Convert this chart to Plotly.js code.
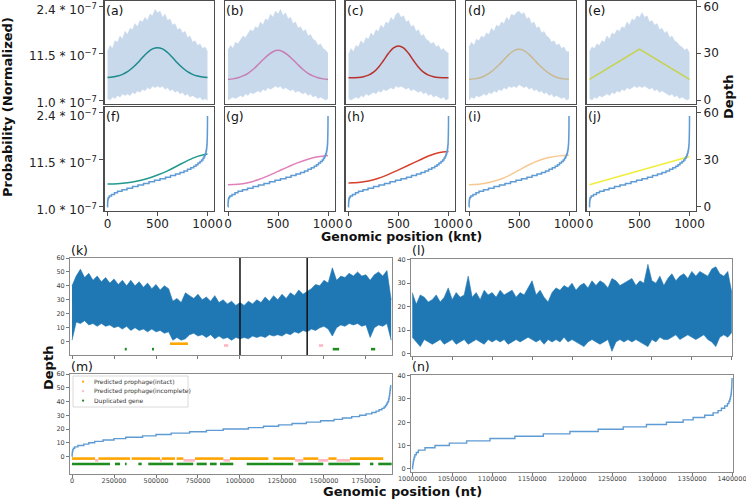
<!DOCTYPE html>
<html><head><meta charset="utf-8">
<script src="https://cdn.plot.ly/plotly-3.0.1.min.js"></script>
<style>html,body{margin:0;padding:0;background:#fff}#chart{width:746px;height:500px}</style>
</head><body><div id="chart"></div>
<script>
// ---------- DATA ----------
// simulated coverage (knt), envelope of the noisy depth signal
const simX = [0,25,50,75,100,125,150,175,200,225,
  250,275,300,325,350,375,400,425,450,475,
  500,525,550,575,600,625,650,675,700,725,
  750,775,800,825,850,875,900,925,950,975,1000];
const aUpper = [31,35,33,38,37,41,39,44,42,46,45,49,47,51,50,53,51,55,54,58,56,57,53,55,51,52,48,49,45,46,43,44,40,41,37,38,35,36,33,34,31];
const aLower = [1,0,2,1,3,2,4,3,4,3,5,4,6,5,7,6,8,7,9,8,9,8,9,7,8,6,7,5,6,4,5,3,4,2,3,2,1,2,0,1,0];
const bUpper = [32,35,33,37,36,39,41,40,43,45,44,47,46,50,48,52,51,55,53,57,55,58,54,56,52,53,49,50,46,47,44,45,41,42,39,38,35,36,33,32,30];
const bLower = [0,1,2,1,2,3,2,4,3,5,4,5,6,5,7,6,8,7,8,9,8,9,7,8,7,6,7,5,6,5,4,5,3,4,2,3,1,2,1,0,1];
const cUpper = [29,33,31,35,34,38,36,40,39,43,41,45,44,48,46,50,49,53,51,55,56,53,54,50,51,47,48,44,45,41,42,39,38,36,37,34,35,32,33,31,30];
const cLower = [1,0,1,2,1,3,2,4,3,4,5,4,6,5,7,6,7,8,7,9,8,9,8,7,8,6,7,6,5,6,4,5,3,4,2,3,2,1,2,0,1];
const dUpper = [34,37,35,39,38,41,40,43,42,46,44,48,47,50,49,53,51,55,54,56,57,55,56,52,53,49,50,46,47,43,44,41,40,37,38,35,36,33,34,31,31];
const dLower = [0,2,1,3,2,3,4,3,5,4,6,5,7,6,8,7,9,8,9,8,10,9,8,9,7,8,6,7,5,6,4,5,3,4,2,3,2,1,2,0,1];
const eUpper = [31,34,33,36,35,38,37,41,39,43,42,45,44,47,46,50,48,52,51,54,53,56,53,54,50,51,48,49,45,46,43,44,40,41,38,37,35,34,32,33,30];
const eLower = [1,0,2,1,3,2,3,4,3,5,4,6,5,7,6,8,7,8,9,8,9,8,9,8,7,8,6,7,5,6,5,4,3,4,2,3,1,2,1,0,1];

// expected depth curves (knt)
const curveX = [0,50,100,150,200,250,300,350,400,450,500,550,600,650,700,750,800,850,900,950,1000];
const aCurve = [14.5,14.8,15.4,16.5,18.2,20.7,23.8,27.3,30.5,32.8,33.6,32.8,30.5,27.3,23.8,20.7,18.2,16.5,15.4,14.8,14.5];
const bCurve = [13.2,13.6,14.3,15.5,17.2,19.6,22.6,25.8,28.8,31.0,31.9,31.0,28.8,25.8,22.6,19.6,17.2,15.5,14.3,13.6,13.2];
const cCurve = [14.3,14.35,14.5,15.0,16.0,17.9,21.1,25.4,30.0,33.4,34.7,33.4,30.0,25.4,21.1,17.9,16.0,15.0,14.5,14.35,14.3];
const dCurve = [13.3,13.6,14.2,15.3,17.1,19.6,22.6,26.0,29.3,31.7,32.6,31.7,29.3,26.0,22.6,19.6,17.1,15.3,14.2,13.6,13.3];
const eCurve = [13.3,15.2,17.2,19.1,21.0,23.0,24.9,26.8,28.7,30.7,32.6,30.7,28.7,26.8,24.9,23.0,21.0,19.1,17.2,15.2,13.3];

// sorted expected depth (knt)
const sortedX = [0,100,200,300,400,500,600,700,800,900,1000];
const fSorted = [14.6,14.8,15.4,16.5,18.2,20.4,23.0,26.3,29.6,32.3,33.8];
const gSorted = [14.1,14.4,15.5,17.3,19.8,22.7,25.6,28.3,30.5,32.0,32.9];
const hSorted = [15.2,15.6,16.6,18.3,20.8,23.7,26.6,29.6,32.5,34.6,35.4];
const iSorted = [14.1,14.5,15.6,17.3,20.0,23.5,26.9,29.6,31.5,32.6,33.0];
const jSorted = [14.1,15.9,17.7,19.5,21.3,23.2,25.0,26.8,28.6,30.4,32.2];

// sorted simulated depth: position (knt) where each depth level starts
const simStepX = [0,0.5,1,1.5,2.5,4,8,18,40,70,100,145,195,250,305,360,415,470,525,580,630,680,725,765,800,833,862,885,905,925,942,955,965,972,978,983,986.5,989.3,991.5,993.2,994.5,996,997.1,997.9,998.6,999.1,999.5,999.75,999.9,1000];
const simStepDepth = [0,1,2,3,4,5,6,7,8,9,10,11,12,13,14,15,16,17,18,19,20,21,22,23,24,25,26,27,28,29,30,31,32,33,34,35,36,37,38,39,40,42,44,46,48,50,52,54,56,58];

// real genome coverage (nt), envelope of the noisy depth signal
const kX = [0,25000,50000,75000,100000,125000,150000,175000,200000,225000,
  250000,275000,300000,325000,350000,375000,400000,425000,450000,475000,
  500000,525000,550000,575000,600000,625000,650000,675000,700000,725000,
  750000,775000,800000,825000,850000,875000,900000,925000,950000,975000,
  1000000,1025000,1050000,1075000,1100000,1125000,1150000,1175000,1200000,1225000,
  1250000,1275000,1300000,1325000,1350000,1375000,1400000,1425000,1450000,1475000,
  1500000,1525000,1550000,1575000,1600000,1625000,1650000,1675000,1700000,1725000,
  1750000,1775000,1800000,1825000,1850000,1875000,1900000];
const kUpper = [40,47,52,46,49,44,47,43,46,42,
  45,41,44,40,44,40,43,39,42,38,
  41,37,40,38,29,31,28,35,33,31,
  34,30,32,29,33,28,30,27,29,26,
  28,26,29,27,30,28,32,29,33,30,
  34,31,35,33,37,34,36,38,41,40,
  44,42,53,44,47,46,49,47,50,47,
  48,44,48,50,47,51,30];
const kLower = [1,14,13,15,12,13,11,13,11,12,
  10,11,9,11,8,10,8,9,7,9,
  7,8,6,7,1,3,1,2,5,6,
  4,5,3,5,2,4,2,3,1,3,
  2,3,2,4,3,4,3,5,4,5,
  4,6,5,7,6,8,7,9,8,10,
  11,9,4,10,12,11,13,12,13,11,
  12,3,10,12,11,13,1];
const regionBounds = [1000000, 1400000];

const lX = [1000000,1005000,1010000,1015000,1020000,1025000,1030000,1035000,1040000,1045000,
  1050000,1055000,1060000,1065000,1070000,1075000,1080000,1085000,1090000,1095000,
  1100000,1105000,1110000,1115000,1120000,1125000,1130000,1135000,1140000,1145000,
  1150000,1155000,1160000,1165000,1170000,1175000,1180000,1185000,1190000,1195000,
  1200000,1205000,1210000,1215000,1220000,1225000,1230000,1235000,1240000,1245000,
  1250000,1255000,1260000,1265000,1270000,1275000,1280000,1285000,1290000,1295000,
  1300000,1305000,1310000,1315000,1320000,1325000,1330000,1335000,1340000,1345000,
  1350000,1355000,1360000,1365000,1370000,1375000,1380000,1385000,1390000,1395000,1400000];
const lUpper = [26,21,25,24,22,23,25,22,24,28,
  23,26,24,25,33,24,26,23,27,25,
  26,24,27,25,26,27,24,26,25,28,
  31,25,27,24,22,26,28,27,29,28,
  30,27,29,30,28,31,29,31,30,28,
  32,31,29,30,31,32,29,31,30,38,
  31,30,33,29,32,34,31,33,34,32,
  35,33,35,34,33,36,37,34,33,35,26];
const lLower = [7,5,3,6,5,4,5,6,4,5,
  6,4,5,6,4,5,6,5,4,6,
  5,6,5,6,4,5,6,5,6,7,
  6,5,6,4,6,5,6,5,7,5,
  6,5,4,3,5,6,5,4,5,6,
  1,5,6,5,6,5,6,5,4,3,
  6,5,7,6,6,7,8,6,7,8,
  7,6,7,8,6,5,3,7,8,7,9];

// sorted real depth: position (nt) where each depth level starts
const mStepX = [0,500,1000,1800,3000,5000,8000,16000,35000,70000,100000,135000,185000,250000,320000,420000,500000,590000,700000,800000,900000,1050000,1140000,1230000,1310000,1395000,1480000,1560000,1610000,1665000,1712000,1750000,1785000,1810000,1828000,1845000,1858000,1866000,1872000,1876000,1880000,1885000,1888500,1891000,1893000,1895000,1897000];
const mStepDepth = [0,1,2,3,4,5,6,7,8,9,10,11,12,13,14,15,16,17,18,19,20,21,22,23,24,25,26,27,28,29,30,31,32,33,34,35,36,37,38,39,40,42,44,46,48,50,52];
const nStepX = [1000000,1000300,1000600,1001000,1001500,1002200,1003200,1005000,1007500,1015800,1028300,1046300,1067900,1097100,1128300,1163800,1197100,1232500,1263800,1292900,1317900,1338800,1351300,1365800,1376300,1382500,1386700,1390800,1394200,1396000,1397200,1398000,1398600,1399000,1399300,1399500,1399700,1399800,1399900,1400000];
const nStepDepth = [0,1,2,3,4,5,6,7,8,9,10,11,12,13,14,15,16,17,18,19,20,21,22,23,24,25,26,27,28,29,30,31,32,33,34,35,36,37,38,39];

// annotated regions (nt): [start, end]
const kIntact = [[583000,690000]];
const kIncomplete = [[905000,930000],[1470000,1495000]];
const kDuplicated = [[314000,326000],[476000,488000],[1552000,1590000],[1780000,1805000]];
const mIntact = [[0,137000],[157000,345000],[355000,524000],[534000,613000],[623000,663000],[732000,901000],[940000,1169000],[1198000,1327000],[1377000,1466000],[1526000,1575000],[1655000,1853000]];
const mIncomplete = [[137000,157000],[524000,534000],[663000,732000],[901000,940000],[1327000,1377000],[1466000,1526000],[1575000,1655000]];
const mDuplicated = [[0,226000],[256000,286000],[315000,325000],[395000,415000],[454000,603000],[623000,722000],[742000,802000],[821000,861000],[881000,960000],[1040000,1317000],[1347000,1496000],[1526000,1714000],[1774000,1794000],[1823000,1903000]];
const legendLabels = ['Predicted prophage(intact)','Predicted prophage(incomplete)','Duplicated gene'];

// tick labels
const depthTicks = [0,30,60];
const probTickText = ['1.0 * 10<sup>−7</sup>','11.5 * 10<sup>−7</sup>','2.4 * 10<sup>−7</sup>'];
const kntTicks = [0,500,1000];
const genomeTicks = [0,250000,500000,750000,1000000,1250000,1500000,1750000];
const regionTicks = [1000000,1050000,1100000,1150000,1200000,1250000,1300000,1350000,1400000];
const depth60Ticks = [0,10,20,30,40,50,60];
const depth40Ticks = [0,10,20,30,40];
const panelNames = ['(a)','(b)','(c)','(d)','(e)','(f)','(g)','(h)','(i)','(j)','(k)','(l)','(m)','(n)'];

// ---------- STYLE / LAYOUT ----------
const W = 746, H = 500;
const xd = (l, r) => [l / W, r / W];
const yd = (t, b) => [1 - b / H, 1 - t / H];
const FONT = 'DejaVu Sans, sans-serif';
const lightBlue = '#c8d9ec', stepBlue = '#5e9bd4', kBlue = '#1f77b4';
const topColors = ['#1d8a8c', '#c77fb3', '#b8312b', '#c9b88f', '#c5d24a'];
const botColors = ['#22998f', '#e07fb8', '#d6402b', '#f7c892', '#f0ee3c'];
const colLeft = [104.5, 225, 345.5, 466, 586.5], colW = 109.5;
const rows = [[1, 104], [107, 211]];
const rowRanges = [[-2.5, 63.5], [-2.6, 63.8]];
const frame = {showline: true, mirror: true, linecolor: '#4d4d4d', linewidth: 1.2, showgrid: false, zeroline: false, ticklabeloverflow: 'allow'};
const frame2 = {showline: true, mirror: true, linecolor: '#8a8a8a', linewidth: 1, showgrid: false, zeroline: false, ticklabeloverflow: 'allow'};

const traces = [];
const layout = {
  width: W, height: H, margin: {l: 0, r: 0, t: 0, b: 0},
  paper_bgcolor: '#fff', plot_bgcolor: '#fff', showlegend: false,
  font: {family: FONT, color: '#222'},
  annotations: [], shapes: []
};

const uppers = [aUpper, bUpper, cUpper, dUpper, eUpper];
const lowers = [aLower, bLower, cLower, dLower, eLower];
const curves = [aCurve, bCurve, cCurve, dCurve, eCurve];
const sorteds = [fSorted, gSorted, hSorted, iSorted, jSorted];
const tickFontMain = {size: 12, color: '#222'};

for (let c = 0; c < 5; c++) {
  const nTop = c + 1, nBot = c + 6;
  layout['xaxis' + nTop] = Object.assign({}, frame, {domain: xd(colLeft[c], colLeft[c] + colW), range: [-30, 1065], anchor: 'y' + nTop, ticks: '', showticklabels: false});
  const yTop = Object.assign({}, frame, {domain: yd(rows[0][0], rows[0][1]), range: rowRanges[0], anchor: 'x' + nTop, ticks: '', showticklabels: false});
  layout['xaxis' + nBot] = Object.assign({}, frame, {domain: xd(colLeft[c], colLeft[c] + colW), range: [-30, 1065], anchor: 'y' + nBot,
    tickvals: kntTicks, ticks: 'outside', ticklen: 4, tickcolor: '#4d4d4d', tickfont: tickFontMain, ticklabelstandoff: -3});
  const yBot = Object.assign({}, frame, {domain: yd(rows[1][0], rows[1][1]), range: rowRanges[1], anchor: 'x' + nBot, ticks: '', showticklabels: false});
  if (c === 0) {
    for (const ya of [yTop, yBot]) Object.assign(ya, {tickvals: depthTicks, ticktext: probTickText, ticks: 'outside', ticklen: 4, tickcolor: '#4d4d4d', showticklabels: true, tickfont: tickFontMain, ticklabelshift: 3});
  }
  if (c === 4) {
    for (const ya of [yTop, yBot]) Object.assign(ya, {side: 'right', tickvals: depthTicks, ticks: 'outside', ticklen: 4, tickcolor: '#4d4d4d', showticklabels: true, tickfont: tickFontMain});
  }
  layout['yaxis' + nTop] = yTop;
  layout['yaxis' + nBot] = yBot;

  traces.push({type: 'scatter', mode: 'lines', x: simX, y: lowers[c], xaxis: 'x' + nTop, yaxis: 'y' + nTop, line: {color: lightBlue, width: 0.6}, hoverinfo: 'skip'});
  traces.push({type: 'scatter', mode: 'lines', x: simX, y: uppers[c], xaxis: 'x' + nTop, yaxis: 'y' + nTop, fill: 'tonexty', fillcolor: lightBlue, line: {color: lightBlue, width: 0.6}, hoverinfo: 'skip'});
  traces.push({type: 'scatter', mode: 'lines', x: curveX, y: curves[c], xaxis: 'x' + nTop, yaxis: 'y' + nTop, line: {color: topColors[c], width: 1.5, shape: c === 4 ? 'linear' : 'spline'}});

  traces.push({type: 'scatter', mode: 'lines', x: sortedX, y: sorteds[c], xaxis: 'x' + nBot, yaxis: 'y' + nBot, line: {color: botColors[c], width: 1.5, shape: c === 4 ? 'linear' : 'spline'}});
  traces.push({type: 'scatter', mode: 'lines', x: simStepX, y: simStepDepth, xaxis: 'x' + nBot, yaxis: 'y' + nBot, line: {color: stepBlue, width: 1.5, shape: 'hv'}});

  for (const [n, r] of [[nTop, rows[0]], [nBot, rows[1]]]) {
    layout.annotations.push({text: panelNames[n - 1], xref: 'paper', yref: 'paper', x: (colLeft[c] + 0.5) / W, y: 1 - (r[0] + 1) / H,
      xanchor: 'left', yanchor: 'top', showarrow: false, font: {size: 12.5, color: '#111'}, borderpad: 0});
  }
}

// bottom panels
const smallTick = {ticks: 'outside', ticklen: 3, tickcolor: '#777', tickfont: {size: 6.5, color: '#444'}};
layout.xaxis11 = Object.assign({}, frame2, smallTick, {domain: xd(70, 392), range: [-12000, 1905000], anchor: 'y11', tickvals: genomeTicks, showticklabels: false});
layout.yaxis11 = Object.assign({}, frame2, smallTick, {domain: yd(258, 355), range: [-9.6, 60], anchor: 'x11', tickvals: depth60Ticks});
layout.xaxis12 = Object.assign({}, frame2, smallTick, {domain: xd(411, 732), range: [998400, 1400300], anchor: 'y12', tickvals: regionTicks, showticklabels: false});
layout.yaxis12 = Object.assign({}, frame2, smallTick, {domain: yd(259, 356), range: [-1, 40.3], anchor: 'x12', tickvals: depth40Ticks});
layout.xaxis13 = Object.assign({}, frame2, smallTick, {domain: xd(70, 392), range: [-12000, 1905000], anchor: 'y13', tickvals: genomeTicks, tickformat: 'd', ticklabelstandoff: -3});
layout.yaxis13 = Object.assign({}, frame2, smallTick, {domain: yd(374, 474), range: [-12.7, 60], anchor: 'x13', tickvals: depth60Ticks});
layout.xaxis14 = Object.assign({}, frame2, smallTick, {domain: xd(411, 733), range: [998300, 1401200], anchor: 'y14', tickvals: regionTicks, tickformat: 'd', ticklabelstandoff: -3});
layout.yaxis14 = Object.assign({}, frame2, smallTick, {domain: yd(375, 472), range: [-1.4, 40.3], anchor: 'x14', tickvals: depth40Ticks});

traces.push({type: 'scatter', mode: 'lines', x: kX, y: kLower, xaxis: 'x11', yaxis: 'y11', line: {color: kBlue, width: 0.6}});
traces.push({type: 'scatter', mode: 'lines', x: kX, y: kUpper, xaxis: 'x11', yaxis: 'y11', fill: 'tonexty', fillcolor: kBlue, line: {color: kBlue, width: 0.6}});
traces.push({type: 'scatter', mode: 'lines', x: lX, y: lLower, xaxis: 'x12', yaxis: 'y12', line: {color: kBlue, width: 0.6}});
traces.push({type: 'scatter', mode: 'lines', x: lX, y: lUpper, xaxis: 'x12', yaxis: 'y12', fill: 'tonexty', fillcolor: kBlue, line: {color: kBlue, width: 0.6}});
traces.push({type: 'scatter', mode: 'lines', x: mStepX, y: mStepDepth, xaxis: 'x13', yaxis: 'y13', line: {color: stepBlue, width: 1.4, shape: 'hv'}});
traces.push({type: 'scatter', mode: 'lines', x: nStepX, y: nStepDepth, xaxis: 'x14', yaxis: 'y14', line: {color: stepBlue, width: 1.4, shape: 'hv'}});

const regionColors = ['#ffa500', '#ffb6c1', '#1e8c1e'];
const regionLevels = [-1.5, -2.8, -5.4];
function segs(list, level) {
  const x = [], y = [];
  for (const [s, e] of list) { x.push(s, e, null); y.push(level, level, null); }
  return {x, y};
}
[[kIntact, kIncomplete, kDuplicated, 'x11', 'y11'], [mIntact, mIncomplete, mDuplicated, 'x13', 'y13']].forEach(([a, b, d, xa, ya]) => {
  [a, b, d].forEach((list, i) => {
    const s = segs(list, regionLevels[i]);
    traces.push({type: 'scatter', mode: 'lines', x: s.x, y: s.y, xaxis: xa, yaxis: ya, line: {color: regionColors[i], width: 2.6}, connectgaps: false});
  });
});

// zoomed region boundaries in (k)
for (const b of regionBounds) {
  layout.shapes.push({type: 'line', xref: 'x11', yref: 'y11 domain', x0: b, x1: b, y0: 0, y1: 1, line: {color: '#111', width: 1.5}});
}

// panel labels for lower section
[[10, 70, 259], [11, 411, 259], [12, 70, 375], [13, 411, 375]].forEach(([i, x, y]) => {
  layout.annotations.push({text: panelNames[i], xref: 'paper', yref: 'paper', x: x / W, y: 1 - y / H, xanchor: 'left', yanchor: 'bottom', showarrow: false, font: {size: 12.5, color: '#111'}, borderpad: 0});
});

// manual legend in (m)
layout.shapes.push({type: 'rect', xref: 'paper', yref: 'paper', x0: 73 / W, x1: 188 / W, y0: 1 - 407 / H, y1: 1 - 376 / H, line: {color: '#d0d0d0', width: 0.8}, fillcolor: 'rgba(255,255,255,0.85)'});
const legRows = [381.7, 391.2, 400.7];
legendLabels.forEach((t, i) => {
  const cy = legRows[i];
  layout.shapes.push({type: 'circle', xref: 'paper', yref: 'paper', x0: 82 / W, x1: 84.2 / W, y0: 1 - (cy + 1.1) / H, y1: 1 - (cy - 1.1) / H, line: {width: 0}, fillcolor: regionColors[i]});
  layout.annotations.push({text: t, xref: 'paper', yref: 'paper', x: 92.5 / W, y: 1 - cy / H, xanchor: 'left', yanchor: 'middle', showarrow: false, font: {size: 6, color: '#333'}, borderpad: 0});
});

// axis titles
const bold = (s) => ({size: s, color: '#111', weight: 'bold', family: FONT});
const title = (text, x, y, angle, s) => ({text, xref: 'paper', yref: 'paper', x: x / W, y: 1 - y / H, xanchor: 'center', yanchor: 'middle', textangle: angle, showarrow: false, font: bold(s || 13), borderpad: 0});
layout.annotations.push(
  title('Probability (Normalized)', 8, 107, -90),
  title('Depth', 729, 97, -90),
  title('Genomic position (knt)', 401, 236, 0, 12.5),
  title('Depth', 48, 368, -90),
  title('Genomic position (nt)', 402, 491, 0)
);

Plotly.newPlot('chart', traces, layout, {staticPlot: true, displayModeBar: false});
</script></body></html>
